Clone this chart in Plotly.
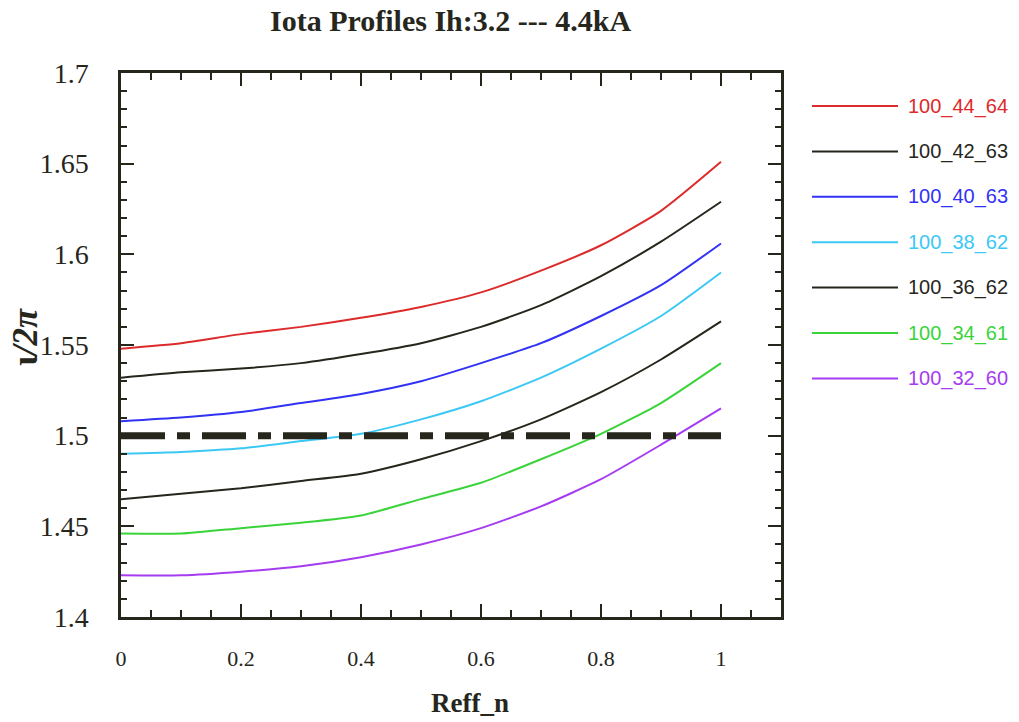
import plotly.graph_objects as go

# ---- data ----
reff = [0.0, 0.1, 0.2, 0.3, 0.4, 0.5, 0.6, 0.7, 0.8, 0.9, 1.0]
names = ["100_44_64", "100_42_63", "100_40_63", "100_38_62", "100_36_62", "100_34_61", "100_32_60"]
iota_100_44_64 = [1.548, 1.551, 1.556, 1.560, 1.565, 1.571, 1.579, 1.591, 1.605, 1.624, 1.651]
iota_100_42_63 = [1.532, 1.535, 1.537, 1.540, 1.545, 1.551, 1.560, 1.572, 1.588, 1.607, 1.629]
iota_100_40_63 = [1.508, 1.510, 1.513, 1.518, 1.523, 1.530, 1.540, 1.551, 1.566, 1.583, 1.606]
iota_100_38_62 = [1.490, 1.491, 1.493, 1.497, 1.501, 1.509, 1.519, 1.532, 1.548, 1.566, 1.590]
iota_100_36_62 = [1.465, 1.468, 1.471, 1.475, 1.479, 1.487, 1.497, 1.509, 1.524, 1.542, 1.563]
iota_100_34_61 = [1.446, 1.446, 1.449, 1.452, 1.456, 1.465, 1.474, 1.487, 1.501, 1.518, 1.540]
iota_100_32_60 = [1.423, 1.423, 1.425, 1.428, 1.433, 1.440, 1.449, 1.461, 1.476, 1.495, 1.515]
ref_x = [0.0, 1.0]
ref_y = [1.5, 1.5]
x_ticks = [0, 0.2, 0.4, 0.6, 0.8, 1.0]
x_tick_text = ["0", "0.2", "0.4", "0.6", "0.8", "1"]
y_ticks = [1.4, 1.45, 1.5, 1.55, 1.6, 1.65, 1.7]
y_tick_text = ["1.4", "1.45", "1.5", "1.55", "1.6", "1.65", "1.7"]

series = [iota_100_44_64, iota_100_42_63, iota_100_40_63, iota_100_38_62,
          iota_100_36_62, iota_100_34_61, iota_100_32_60]
colors = ["#dd2a2a", "#26261c", "#3232f5", "#3cc8f5", "#26261c", "#3ad43a", "#a63cf0"]

fig = go.Figure()
for name, ys, c in zip(names, series, colors):
    fig.add_trace(go.Scatter(x=reff, y=ys, mode="lines", name=name,
                             line=dict(color=c, width=2, shape="spline", smoothing=0.6),
                             showlegend=False))

fig.add_trace(go.Scatter(x=ref_x, y=ref_y, mode="lines", showlegend=False,
                         line=dict(color="#26261c", width=7, dash="44px,12px,13px,12px")))

# custom legend (long line segments as in the reference)
L, T, W, H = 121, 73, 660, 544
def px2paper(px, py):
    return (px - L) / W, (T + H - py) / H

for i, (name, c) in enumerate(zip(names, colors)):
    py = 106 + i * 45.4
    x0, y0 = px2paper(812, py)
    x1, _ = px2paper(898, py)
    fig.add_shape(type="line", xref="paper", yref="paper", x0=x0, x1=x1, y0=y0, y1=y0,
                  line=dict(color=c, width=2))
    xt, _ = px2paper(906, py)
    fig.add_annotation(xref="paper", yref="paper", x=xt, y=y0, text=name, showarrow=False,
                       xanchor="left", yanchor="middle",
                       font=dict(family="Liberation Sans, Arial", size=20, color=c))

# title / axis titles
tx, ty = px2paper(450, 21)
fig.add_annotation(xref="paper", yref="paper", x=tx, y=ty, showarrow=False,
                   xanchor="center", yanchor="middle",
                   text="<b>Iota Profiles Ih:3.2 --- 4.4kA</b>",
                   font=dict(family="Liberation Serif, serif", size=30, color="#26261c"))
ax_, ay_ = px2paper(470, 703)
fig.add_annotation(xref="paper", yref="paper", x=ax_, y=ay_, showarrow=False,
                   xanchor="center", yanchor="middle",
                   text="<b>Reff_n</b>",
                   font=dict(family="Liberation Serif, serif", size=27, color="#26261c"))
yx, yy = px2paper(25, 337)
fig.add_annotation(xref="paper", yref="paper", x=yx, y=yy, showarrow=False, textangle=-90,
                   xanchor="center", yanchor="middle",
                   text="<b>ι<i>/2π</i></b>",
                   font=dict(family="Liberation Serif, serif", size=35, color="#26261c"))

axis_common = dict(showline=True, linecolor="#26261c", linewidth=2.5, mirror="ticks",
                   ticks="inside", tickcolor="#26261c", tickwidth=2, showgrid=False,
                   zeroline=False)

fig.update_xaxes(range=[0, 1.1], tickvals=x_ticks, ticktext=x_tick_text, ticklen=13,
                 minor=dict(dtick=0.05, ticks="inside", ticklen=7, tickcolor="#26261c",
                            tickwidth=1.5, showgrid=False),
                 tickfont=dict(family="Liberation Serif, serif", size=22, color="#26261c"),
                 ticklabelstandoff=20, **axis_common)
fig.update_yaxes(range=[1.4, 1.7], tickvals=y_ticks, ticktext=y_tick_text, ticklen=13,
                 minor=dict(dtick=0.01, ticks="inside", ticklen=6, tickcolor="#26261c",
                            tickwidth=1.5, showgrid=False),
                 tickfont=dict(family="Liberation Serif, serif", size=28, color="#26261c"),
                 ticklabelstandoff=24, **axis_common)

fig.update_layout(width=1019, height=722, margin=dict(l=L, r=1019 - L - W, t=T, b=722 - T - H),
                  paper_bgcolor="white", plot_bgcolor="white", showlegend=False)

fig.write_html("out.html", config={"displayModeBar": False},
               post_script="document.body.style.margin='0px';document.body.style.overflow='hidden';")
